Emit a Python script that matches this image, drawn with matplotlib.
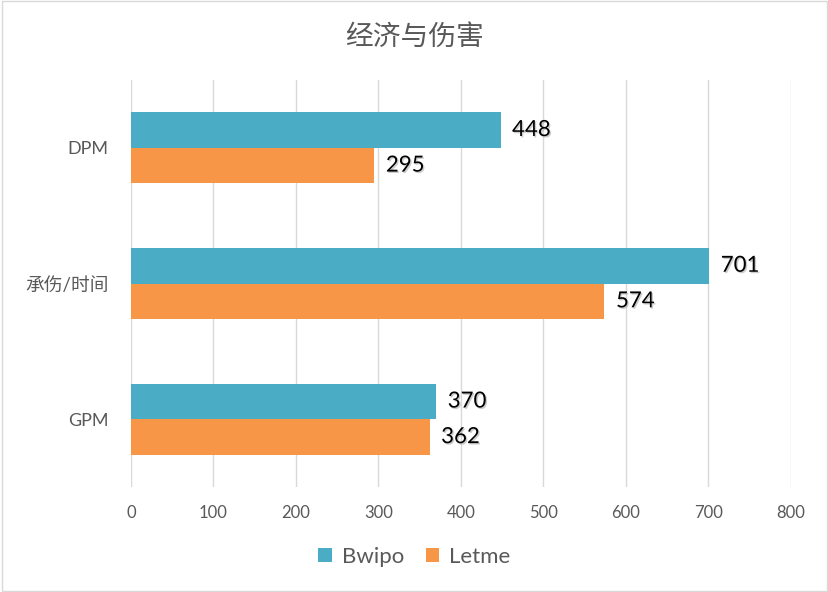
import matplotlib
matplotlib.use("Agg")
import matplotlib.pyplot as plt
import matplotlib.patheffects as pe
import numpy as np

plt.rcParams['font.family'] = ['Lato', 'Noto Sans CJK SC', 'DejaVu Sans']

# données
categories = ["DPM", "承伤/时间", "GPM"]
bwipo = [448, 701, 370]
letme = [295, 574, 362]
series_names = ["Bwipo", "Letme"]
xticks = [0, 100, 200, 300, 400, 500, 600, 700, 800]

col_b = "#4BACC6"
col_l = "#F79646"

fig = plt.figure(figsize=(8.29, 5.92), dpi=100)
ax = fig.add_axes([0.158, 0.177, 0.796, 0.688])

y = np.arange(len(categories))
h = 0.262
bars_b = ax.barh(y - h / 2, bwipo, height=h, color=col_b, label=series_names[0], zorder=3)
bars_l = ax.barh(y + h / 2, letme, height=h, color=col_l, label=series_names[1], zorder=3)

shadow = [pe.SimplePatchShadow(offset=(1, -1), shadow_rgbFace="#aaaaaa", alpha=0.6), pe.Normal()]
for bars in (bars_b, bars_l):
    for b in bars:
        w = b.get_width()
        t = ax.text(w + 14, b.get_y() + b.get_height() / 2, f"{w:.0f}",
                    va="center", ha="left", fontsize=16, color="black", zorder=4)
        t.set_path_effects(shadow)

ax.set_xlim(0, 800)
ax.set_ylim(len(categories) - 0.5, -0.5)
ax.set_xticks(xticks)
ax.set_yticks(y)
ax.set_yticklabels(categories, fontsize=13, color="#595959")
ax.get_yticklabels()[1].set_fontsize(13.5)
ax.tick_params(axis="x", labelsize=12, labelcolor="#595959", length=0, pad=13)
ax.tick_params(axis="y", length=0, pad=16)
ax.grid(axis="x", color="#d9d9d9", linewidth=1, zorder=0)
for s in ax.spines.values():
    s.set_visible(False)

fig.text(0.5, 0.937, "经济与伤害", ha="center", va="center", fontsize=20, color="#595959")

leg = fig.legend(loc="center", bbox_to_anchor=(0.5, 0.059), ncol=2, frameon=False,
                 fontsize=16, handlelength=0.6, handleheight=0.6, columnspacing=1.0,
                 handletextpad=0.45)
for t in leg.get_texts():
    t.set_color("#595959")

fig.patches.append(plt.Rectangle((0.002, 0.002), 0.996, 0.996, transform=fig.transFigure,
                                 fill=False, edgecolor="#d9d9d9", linewidth=1))

fig.savefig("out.png", dpi=100, facecolor="white")
